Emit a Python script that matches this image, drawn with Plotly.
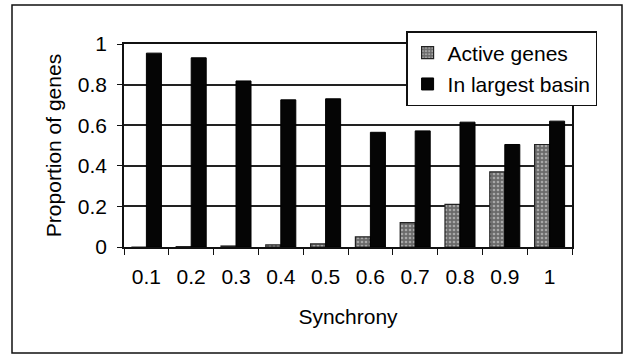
import plotly.graph_objects as go

synchrony = ["0.1", "0.2", "0.3", "0.4", "0.5", "0.6", "0.7", "0.8", "0.9", "1"]
active_genes = [0.0, 0.002, 0.005, 0.01, 0.015, 0.05, 0.12, 0.21, 0.37, 0.505]
largest_basin = [0.955, 0.932, 0.818, 0.725, 0.73, 0.565, 0.572, 0.615, 0.505, 0.62]
y_ticks = [0, 0.2, 0.4, 0.6, 0.8, 1]

FONT = "Liberation Sans, Arial, sans-serif"
INK = "#000000"
FS = 21

fig = go.Figure()
fig.add_trace(go.Bar(
    x=synchrony, y=active_genes, name="Active genes",
    legendgroup="a",
    marker=dict(color="#8a8a8a", line=dict(color="#222", width=1.2),
                pattern=dict(shape=".", fgcolor="#e6e6e6", bgcolor="#6a6a6a",
                             size=4, solidity=0.35)),
))
fig.add_trace(go.Bar(
    x=synchrony, y=largest_basin, name="In largest basin",
    legendgroup="b",
    marker=dict(color="#050505", line=dict(color="#000", width=1)),
))

# outer frame around the whole chart (paper coords relative to plot area)
fig.add_shape(type="rect", xref="paper", yref="paper",
              x0=-0.25, x1=1.1116, y0=-0.522, y1=1.192,
              line=dict(color="#111", width=1.5), fillcolor="rgba(0,0,0,0)",
              layer="below")

fig.update_layout(
    width=630, height=361,
    margin=dict(l=124, r=58, t=44, b=114),
    paper_bgcolor="white", plot_bgcolor="white",
    font=dict(family=FONT, size=FS, color=INK),
    barmode="group", bargap=0.33, bargroupgap=0.0,
    showlegend=True,
    legend=dict(x=1.056, y=1.064, xanchor="right", yanchor="top",
                bgcolor="white", bordercolor="#111", borderwidth=1.5,
                traceorder="grouped", tracegroupgap=1,
                font=dict(family=FONT, size=FS, color=INK)),
    xaxis=dict(
        type="category", tickson="boundaries", ticks="outside", ticklen=6,
        tickcolor="#111", tickwidth=1.3, showline=True, linecolor="#111",
        linewidth=1.5, mirror=True, showgrid=False,
        ticklabelstandoff=10,
        title=dict(text="Synchrony", standoff=22,
                   font=dict(family=FONT, size=FS)),
        tickfont=dict(family=FONT, size=FS),
    ),
    yaxis=dict(
        range=[0, 1], tickvals=y_ticks, ticktext=[f"{v:g}" for v in y_ticks],
        ticks="outside", ticklen=5, tickcolor="#111", tickwidth=1.3,
        showline=True, linecolor="#111", linewidth=1.5, mirror=True,
        showgrid=True, gridcolor="#222", gridwidth=1.6, zeroline=False,
        ticklabelstandoff=6,
        title=dict(text="Proportion of genes", standoff=10,
                   font=dict(family=FONT, size=FS)),
        tickfont=dict(family=FONT, size=FS),
    ),
)

fig.write_html("out.html")
